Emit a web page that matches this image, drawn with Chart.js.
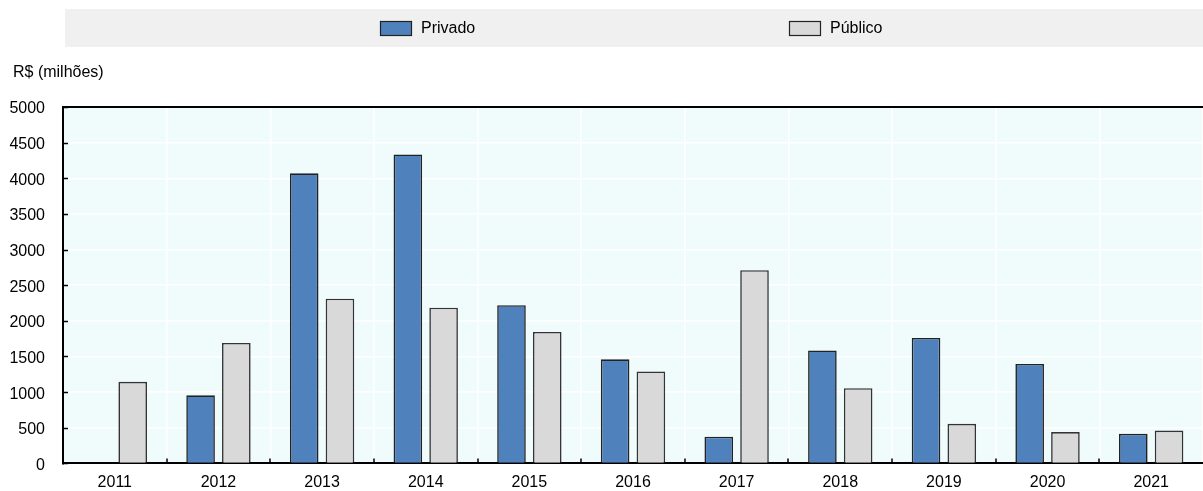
<!DOCTYPE html>
<html>
<head>
<meta charset="utf-8">
<script src="https://cdn.jsdelivr.net/npm/chart.js@4"></script>
<style>
  body { margin: 0; background: #fff; }
  #wrap { width: 1203px; height: 491px; }
</style>
</head>
<body>
<div id="wrap"><canvas id="chart" width="1203" height="491"></canvas></div>
<script>
const years = ['2011', '2012', '2013', '2014', '2015', '2016', '2017', '2018', '2019', '2020', '2021'];
const privado = [null, 955, 4070, 4335, 2220, 1460, 375, 1585, 1760, 1395, 415];
const publico = [1145, 1690, 2310, 2185, 1845, 1290, 2710, 1055, 555, 440, 460];
const yTicks = [0, 500, 1000, 1500, 2000, 2500, 3000, 3500, 4000, 4500, 5000];
const yTitle = 'R$ (milhões)';

const FONT = "'Liberation Sans', Arial, sans-serif";
const BLUE = '#4f81bd';
const GREY = '#d9d9d9';

document.addEventListener('DOMContentLoaded', function() {
    const ctx = document.getElementById('chart').getContext('2d');

    // background of the plot, black frame pieces and inward tick marks
    const framePlugin = {
        id: 'frame',
        beforeDraw(chart) {
            const a = chart.chartArea;
            const c = chart.ctx;
            c.save();
            c.fillStyle = '#f0fbfc';
            c.fillRect(a.left, a.top, a.right - a.left, a.bottom - a.top);
            c.restore();
        },
        afterDraw(chart) {
            const a = chart.chartArea;
            const c = chart.ctx;
            const y = chart.scales.y;
            const x = chart.scales.x;
            c.save();
            c.strokeStyle = '#000';
            c.lineWidth = 2;
            c.beginPath();
            c.moveTo(a.left, a.top);
            c.lineTo(a.right, a.top);
            c.stroke();
            c.lineWidth = 1.5;
            c.beginPath();
            yTicks.forEach(v => {
                const py = Math.round(y.getPixelForValue(v)) + 0.5;
                c.moveTo(a.left, py);
                c.lineTo(a.left + 5, py);
            });
            for (let i = 1; i < years.length; i++) {
                const px = Math.round((x.getPixelForValue(i - 1) + x.getPixelForValue(i)) / 2);
                c.moveTo(px, a.bottom);
                c.lineTo(px, a.bottom - 5);
            }
            c.stroke();

            // legend band
            c.fillStyle = '#f0f0f0';
            c.fillRect(65, 9, 1138, 38);
            const items = [
                { label: 'Privado', color: BLUE, x: 380 },
                { label: 'Público', color: GREY, x: 789 }
            ];
            c.font = '16px ' + FONT;
            c.textBaseline = 'middle';
            items.forEach(it => {
                c.fillStyle = it.color;
                c.fillRect(it.x, 21, 32, 14);
                c.strokeStyle = '#222';
                c.lineWidth = 1.2;
                c.strokeRect(it.x + 0.5, 21.5, 31, 14);
                c.fillStyle = '#000';
                c.fillText(it.label, it.x + 41, 28.5);
            });

            // axis title
            c.fillText(yTitle, 13, 73);
            c.restore();
        }
    };

    new Chart(ctx, {
        type: 'bar',
        data: {
            labels: years,
            datasets: [
                {
                    label: 'Privado',
                    data: privado,
                    backgroundColor: BLUE,
                    borderColor: '#222',
                    borderWidth: 1.6
                },
                {
                    label: 'Público',
                    data: publico,
                    backgroundColor: GREY,
                    borderColor: '#333',
                    borderWidth: 1.6
                }
            ]
        },
        options: {
            responsive: false,
            animation: false,
            layout: { padding: { top: 107, right: 0, left: 0, bottom: 0 } },
            datasets: {
                bar: { categoryPercentage: 0.69, barPercentage: 0.8 }
            },
            plugins: {
                legend: { display: false },
                tooltip: { enabled: false }
            },
            scales: {
                x: {
                    grid: { color: '#ffffff', lineWidth: 1.5, drawTicks: false, offset: true },
                    border: { color: '#000', width: 2 },
                    ticks: { color: '#000', padding: 10, font: { family: FONT, size: 16 } },
                    afterFit: function(scale) { scale.height = 24; }
                },
                y: {
                    min: 0,
                    max: 5000,
                    afterBuildTicks: function(scale) {
                        scale.ticks = yTicks.map(v => ({ value: v }));
                    },
                    grid: { color: '#ffffff', lineWidth: 1.5, drawTicks: false },
                    border: { color: '#000', width: 2 },
                    ticks: {
                        color: '#000',
                        padding: 18,
                        labelOffset: 2,
                        font: { family: FONT, size: 16 },
                        callback: function(value) { return String(value); }
                    },
                    afterFit: function(scale) { scale.width = 63; }
                }
            }
        },
        plugins: [framePlugin]
    });
});
</script>
</body>
</html>
